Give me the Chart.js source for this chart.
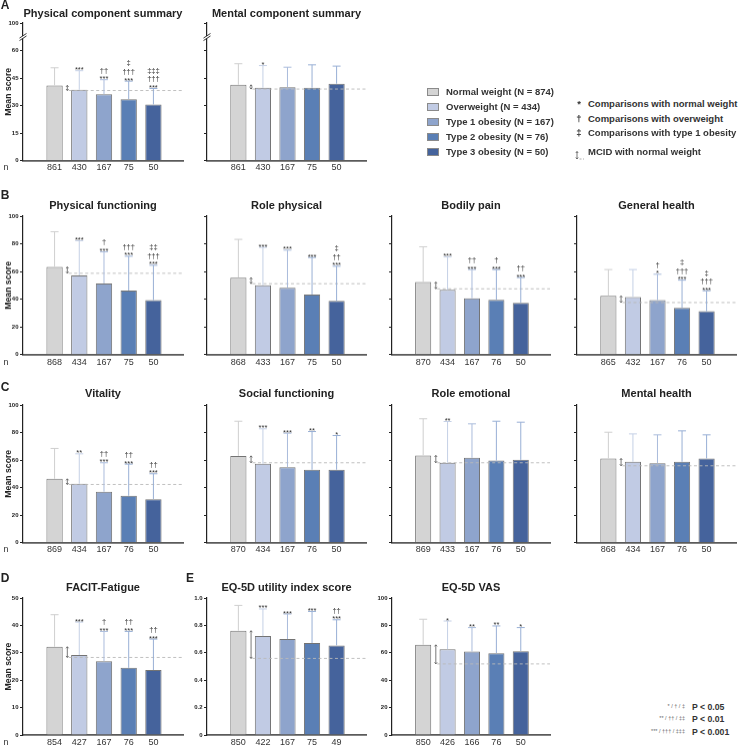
<!DOCTYPE html>
<html>
<head>
<meta charset="utf-8">
<script src="https://cdn.jsdelivr.net/npm/chart.js@4.4.1/dist/chart.umd.min.js"></script>
<style>
  html, body { margin: 0; padding: 0; }
  body { width: 738px; height: 746px; position: relative; overflow: hidden; background: #fff; font-family: 'Liberation Sans', Arial, sans-serif; color: #222; }
  .box { position: absolute; }
  .lbl { position: absolute; white-space: nowrap; line-height: 1; }
  .letter { font-size: 12px; font-weight: bold; }
  .title { font-size: 11px; font-weight: bold; }
  .n { font-size: 9px; color: #333; }
  .leg { font-size: 9.5px; font-weight: bold; color: #333; }
  .swatch { position: absolute; width: 10px; height: 6px; border: 1px solid #8a8a8a; }
  .fn-sym { font-size: 5.5px; color: #666; }
  .fn-p { font-size: 8.7px; font-weight: bold; color: #333; }
</style>
</head>
<body>
<script>
// groups (legend)
const groups = ['Normal weight', 'Overweight', 'Type 1 obesity', 'Type 2 obesity', 'Type 3 obesity'];
const groupN = [874, 434, 167, 76, 50];

// A - SF-36 component summaries
const pcsMean = [41.0, 38.6, 36.1, 33.5, 30.6];
const pcsSd = [9.6, 10.4, 8.0, 9.8, 8.7];
const pcsN = [861, 430, 167, 75, 50];
const pcsSig = ['', '***', '††\n***', '‡\n†††\n***', '‡‡‡\n†††\n***'];
const pcsMcid = 38.2;

const mcsMean = [41.3, 39.7, 40.0, 39.7, 41.9];
const mcsSd = [11.5, 12.1, 10.9, 12.5, 9.6];
const mcsN = [861, 430, 167, 75, 50];
const mcsSig = ['', '*', '', '', ''];
const mcsMcid = 39.0;

// B - physical domains
const pfMean = [63.3, 57.2, 51.4, 46.3, 39.3];
const pfSd = [25.4, 25.0, 22.8, 24.7, 25.2];
const pfN = [868, 434, 167, 75, 50];
const pfSig = ['', '***', '†\n***', '†††\n***', '‡‡\n†††\n***'];
const pfMcid = 58.7;

const rpMean = [55.6, 50.0, 48.3, 43.4, 38.8];
const rpSd = [27.6, 27.4, 27.1, 26.7, 25.0];
const rpN = [868, 433, 167, 75, 50];
const rpSig = ['', '***', '***', '***', '‡\n††\n***'];
const rpMcid = 51.2;

const bpMean = [52.4, 46.8, 40.7, 39.5, 37.4];
const bpSd = [25.4, 23.7, 20.7, 21.9, 18.2];
const bpN = [870, 434, 167, 76, 50];
const bpSig = ['', '***', '††\n***', '†\n***', '††\n***'];
const bpMcid = 47.5;

const ghMean = [42.4, 41.5, 39.3, 33.7, 31.3];
const ghSd = [19.0, 19.9, 18.7, 20.1, 14.8];
const ghN = [865, 432, 167, 76, 50];
const ghSig = ['', '', '†\n*', '‡\n†††\n***', '‡\n†††\n***'];
const ghMcid = 37.6;

// C - mental domains
const vtMean = [46.3, 42.7, 36.9, 34.0, 31.5];
const vtSd = [22.1, 21.8, 21.1, 23.0, 18.5];
const vtN = [869, 434, 167, 76, 50];
const vtSig = ['', '**', '††\n***', '††\n***', '††\n***'];
const vtMcid = 42.2;

const sfMean = [63.0, 57.2, 54.8, 52.9, 52.9];
const sfSd = [25.2, 25.5, 24.7, 27.8, 24.9];
const sfN = [870, 434, 167, 76, 50];
const sfSig = ['', '***', '***', '**', '*'];
const sfMcid = 58.0;

const reMean = [63.3, 58.0, 61.6, 59.6, 60.1];
const reSd = [26.7, 30.0, 24.7, 28.6, 27.4];
const reN = [869, 433, 167, 76, 50];
const reSig = ['', '**', '', '', ''];
const reMcid = 58.0;

const mhMean = [61.1, 58.7, 57.7, 58.7, 61.1];
const mhSd = [19.1, 20.3, 20.6, 22.5, 17.2];
const mhN = [868, 434, 167, 76, 50];
const mhSig = ['', '', '', '', ''];
const mhMcid = 55.8;

// D - FACIT-Fatigue
const facitMean = [32.2, 29.2, 26.9, 24.5, 23.7];
const facitSd = [11.7, 12.0, 10.9, 13.3, 11.3];
const facitN = [854, 427, 167, 76, 50];
const facitSig = ['', '***', '†\n***', '††\n***', '††\n***'];
const facitMcid = 28.3;

// E - EQ-5D
const eqiMean = [0.761, 0.722, 0.700, 0.671, 0.654];
const eqiSd = [0.185, 0.198, 0.183, 0.231, 0.187];
const eqiN = [850, 422, 167, 75, 49];
const eqiSig = ['', '***', '***', '***', '††\n***'];
const eqiMcid = 0.559;

const vasMean = [65.8, 62.6, 60.9, 59.7, 61.2];
const vasSd = [18.7, 20.6, 17.5, 19.9, 17.2];
const vasN = [850, 426, 166, 76, 50];
const vasSig = ['', '*', '**', '**', '*'];
const vasMcid = 51.9;

// styles
const fillColors = ['#d4d4d4', '#c1cbe4', '#8ea4cc', '#5a7fb5', '#45639c'];
const errColors = ['#cfcfcf', '#c5d0e6', '#aabcdc', '#98afd5', '#98afd5'];
const FONT = "'Liberation Sans', Arial, sans-serif";
Chart.defaults.font.family = FONT;

const scaleDefs = {
  summary: { max: 75, step: 15, fmt: v => v === 75 ? '100' : String(v), brk: 67.5 },
  percent: { max: 100, step: 20, fmt: v => String(v) },
  facit: { max: 50, step: 10, fmt: v => String(v) },
  index: { max: 1, step: 0.2, fmt: v => v === 0 ? '0' : v.toFixed(1) }
};

// plot areas: [axis x, right end] per column, [top, zero line] per row
const colX = [[23, 183], [207, 366], [392, 550], [577, 736]];
const rowY = [[22.7, 160.3], [216, 353.7], [404.5, 542], [598.3, 735.3]];
const titleY = [12.7, 205, 393, 586.7];

const panels = [
  { title: 'Physical component summary', mean: pcsMean, sd: pcsSd, n: pcsN, sig: pcsSig, mcid: pcsMcid, scale: 'summary', row: 0, col: 0, labels: true },
  { title: 'Mental component summary', mean: mcsMean, sd: mcsSd, n: mcsN, sig: mcsSig, mcid: mcsMcid, scale: 'summary', row: 0, col: 1, labels: false },
  { title: 'Physical functioning', mean: pfMean, sd: pfSd, n: pfN, sig: pfSig, mcid: pfMcid, scale: 'percent', row: 1, col: 0, labels: true },
  { title: 'Role physical', mean: rpMean, sd: rpSd, n: rpN, sig: rpSig, mcid: rpMcid, scale: 'percent', row: 1, col: 1, labels: false },
  { title: 'Bodily pain', mean: bpMean, sd: bpSd, n: bpN, sig: bpSig, mcid: bpMcid, scale: 'percent', row: 1, col: 2, labels: false },
  { title: 'General health', mean: ghMean, sd: ghSd, n: ghN, sig: ghSig, mcid: ghMcid, scale: 'percent', row: 1, col: 3, labels: false },
  { title: 'Vitality', mean: vtMean, sd: vtSd, n: vtN, sig: vtSig, mcid: vtMcid, scale: 'percent', row: 2, col: 0, labels: true },
  { title: 'Social functioning', mean: sfMean, sd: sfSd, n: sfN, sig: sfSig, mcid: sfMcid, scale: 'percent', row: 2, col: 1, labels: false },
  { title: 'Role emotional', mean: reMean, sd: reSd, n: reN, sig: reSig, mcid: reMcid, scale: 'percent', row: 2, col: 2, labels: false },
  { title: 'Mental health', mean: mhMean, sd: mhSd, n: mhN, sig: mhSig, mcid: mhMcid, scale: 'percent', row: 2, col: 3, labels: false },
  { title: 'FACIT-Fatigue', mean: facitMean, sd: facitSd, n: facitN, sig: facitSig, mcid: facitMcid, scale: 'facit', row: 3, col: 0, labels: true },
  { title: 'EQ-5D utility index score', mean: eqiMean, sd: eqiSd, n: eqiN, sig: eqiSig, mcid: eqiMcid, scale: 'index', row: 3, col: 1, labels: true },
  { title: 'EQ-5D VAS', mean: vasMean, sd: vasSd, n: vasN, sig: vasSig, mcid: vasMcid, scale: 'percent', row: 3, col: 2, labels: true }
];

function addText(txt, x, y, cls, anchor) {
  const d = document.createElement('div');
  d.className = 'lbl ' + cls;
  d.textContent = txt;
  d.style.left = x + 'px';
  d.style.top = y + 'px';
  const tx = anchor === 'left' ? '0' : anchor === 'right' ? '-100%' : '-50%';
  d.style.transform = 'translate(' + tx + ',-50%)';
  document.body.appendChild(d);
  return d;
}

// error bars, significance marks, MCID line/marker, axis break
const decorations = {
  id: 'decorations',
  afterDatasetsDraw(chart, args, o) {
    const { ctx, chartArea: area, scales: { y } } = chart;
    const bars = chart.getDatasetMeta(0).data;
    ctx.save();

    // MCID reference line
    const yM = y.getPixelForValue(o.mcid);
    const x0 = bars[0].x + bars[0].width / 2;
    ctx.strokeStyle = '#b9b9b9';
    ctx.lineWidth = 0.9;
    ctx.setLineDash([3, 2.5]);
    ctx.beginPath();
    ctx.moveTo(x0 + 6, yM);
    ctx.lineTo(area.right, yM);
    ctx.stroke();
    ctx.setLineDash([]);

    // MCID marker (double arrow)
    const yN = y.getPixelForValue(o.mean[0]);
    const mx = x0 + 4.6;
    ctx.strokeStyle = '#555';
    ctx.lineWidth = 0.8;
    ctx.beginPath();
    ctx.moveTo(mx, yN); ctx.lineTo(mx, yM);
    ctx.moveTo(mx - 1.3, yN + 1.5); ctx.lineTo(mx, yN); ctx.lineTo(mx + 1.3, yN + 1.5);
    ctx.moveTo(mx - 1.3, yM - 1.5); ctx.lineTo(mx, yM); ctx.lineTo(mx + 1.3, yM - 1.5);
    ctx.stroke();

    // error bars + significance
    o.mean.forEach((m, i) => {
      const bx = bars[i].x;
      const yb = y.getPixelForValue(m);
      const yt = y.getPixelForValue(m + o.sd[i]);
      ctx.strokeStyle = errColors[i];
      ctx.lineWidth = 1;
      ctx.beginPath();
      ctx.moveTo(bx, yb); ctx.lineTo(bx, yt);
      ctx.moveTo(bx - 4, yt); ctx.lineTo(bx + 4, yt);
      ctx.stroke();

      if (o.sig[i]) {
        const lines = o.sig[i].split('\n').reverse();
        ctx.fillStyle = '#333';
        ctx.font = '7.5px ' + FONT;
        ctx.textAlign = 'center';
        ctx.textBaseline = 'alphabetic';
        lines.forEach((t, k) => ctx.fillText(t, bx, yt + 1.5 - k * 8.6));
      }
    });

    // broken axis
    if (o.brk !== undefined) {
      const by = y.getPixelForValue(o.brk);
      const ax = area.left;
      ctx.fillStyle = '#fff';
      ctx.beginPath();
      ctx.moveTo(ax - 3, by + 1); ctx.lineTo(ax + 3, by - 3);
      ctx.lineTo(ax + 3, by - 0.5); ctx.lineTo(ax - 3, by + 3.5);
      ctx.closePath();
      ctx.fill();
      ctx.strokeStyle = '#222';
      ctx.lineWidth = 0.9;
      ctx.beginPath();
      ctx.moveTo(ax - 3.5, by + 1.3); ctx.lineTo(ax + 3.5, by - 3.3);
      ctx.moveTo(ax - 3.5, by + 3.8); ctx.lineTo(ax + 3.5, by - 0.8);
      ctx.stroke();
    }
    ctx.restore();
  }
};

const YW = 23, PADT = 7, XH = 16, PADR = 3;

panels.forEach(p => {
  const [ax, right] = colX[p.col];
  const [top, zero] = rowY[p.row];
  const sd = scaleDefs[p.scale];

  const box = document.createElement('div');
  box.className = 'box';
  const left = ax - YW;
  box.style.left = left + 'px';
  box.style.top = (top - PADT) + 'px';
  box.style.width = (right + PADR - left) + 'px';
  box.style.height = (zero + XH - (top - PADT)) + 'px';
  const canvas = document.createElement('canvas');
  box.appendChild(canvas);
  document.body.appendChild(box);

  addText(p.title, (ax + right) / 2, titleY[p.row], 'title');

  new Chart(canvas, {
    type: 'bar',
    data: {
      datasets: [{
        data: p.mean.map((v, i) => ({ x: i, y: v })),
        backgroundColor: fillColors,
        borderColor: '#737373',
        borderWidth: 1,
        barPercentage: 0.66,
        categoryPercentage: 1
      }]
    },
    options: {
      responsive: true,
      maintainAspectRatio: false,
      animation: false,
      layout: { padding: { top: PADT, right: PADR, left: 0, bottom: 0 } },
      plugins: {
        legend: { display: false },
        tooltip: { enabled: false },
        decorations: { mean: p.mean, sd: p.sd, sig: p.sig, mcid: p.mcid, brk: sd.brk }
      },
      scales: {
        x: {
          type: 'linear',
          min: -0.63,
          max: 4.55,
          grid: { display: false, drawTicks: false },
          border: { display: true, color: '#5b5b5b', width: 1.8 },
          ticks: {
            stepSize: 1, includeBounds: false, autoSkip: false, maxRotation: 0,
            padding: 2, color: '#333', font: { size: 9 },
            callback: v => p.n[v]
          },
          afterFit: s => { s.height = XH; }
        },
        y: {
          min: 0,
          max: sd.max,
          grid: { display: true, drawOnChartArea: false, drawTicks: true, tickLength: 3, color: '#222', lineWidth: 1 },
          border: { display: true, color: '#222', width: 1.2 },
          ticks: {
            stepSize: sd.step, padding: 1.5, color: '#222',
            font: { size: 6, weight: 'bold' },
            callback: v => p.labels ? sd.fmt(v) : ''
          },
          title: {
            display: p.col === 0,
            text: 'Mean score',
            color: '#222',
            font: { size: 8.7, weight: 'bold' },
            padding: { top: 3, bottom: 0 }
          },
          afterFit: s => { s.width = YW; }
        }
      }
    },
    plugins: [decorations]
  });
});

// panel letters
addText('A', 5, 5, 'letter');
addText('B', 5, 195, 'letter');
addText('C', 5, 387, 'letter');
addText('D', 5, 578, 'letter');
addText('E', 190, 578, 'letter');

// "n" row labels
[166.7, 361.7, 549, 741.5].forEach(y => addText('n', 6, y, 'n'));

// legend
const legY = [92, 107, 122, 137, 152];
groups.forEach((g, i) => {
  const sw = document.createElement('div');
  sw.className = 'swatch';
  sw.style.left = '427px';
  sw.style.top = (legY[i] - 4) + 'px';
  sw.style.background = fillColors[i];
  document.body.appendChild(sw);
  addText(g + ' (N = ' + groupN[i] + ')', 446, legY[i], 'leg', 'left');
});

const symbols = ['*', '†', '‡'];
const symbolText = ['Comparisons with normal weight', 'Comparisons with overweight', 'Comparisons with type 1 obesity'];
const symY = [104, 119, 133.3];
symbols.forEach((s, i) => {
  addText(s, 579, symY[i], 'leg');
  addText(symbolText[i], 588, symY[i], 'leg', 'left');
});
const icon = document.createElement('div');
icon.className = 'box';
icon.style.left = '575px';
icon.style.top = '146px';
icon.innerHTML = '<svg width="10" height="9" viewBox="0 0 10 9"><path d="M2 0.5 V8 M0.8 2 L2 0.5 L3.2 2 M0.8 6.5 L2 8 L3.2 6.5" stroke="#555" stroke-width="0.8" fill="none"/><path d="M4.5 8 H9" stroke="#999" stroke-width="0.8" stroke-dasharray="2 1.5"/></svg>';
document.body.appendChild(icon);
addText('MCID with normal weight', 588, 151.7, 'leg', 'left');

// footnote
const fnSym = ['* / † / ‡', '** / †† / ‡‡', '*** / ††† / ‡‡‡'];
const fnP = ['P < 0.05', 'P < 0.01', 'P < 0.001'];
const fnY = [707.3, 719.3, 731.7];
fnSym.forEach((s, i) => {
  addText(s, 685, fnY[i], 'fn-sym', 'right');
  addText(fnP[i], 692, fnY[i], 'fn-p', 'left');
});
</script>
</body>
</html>
